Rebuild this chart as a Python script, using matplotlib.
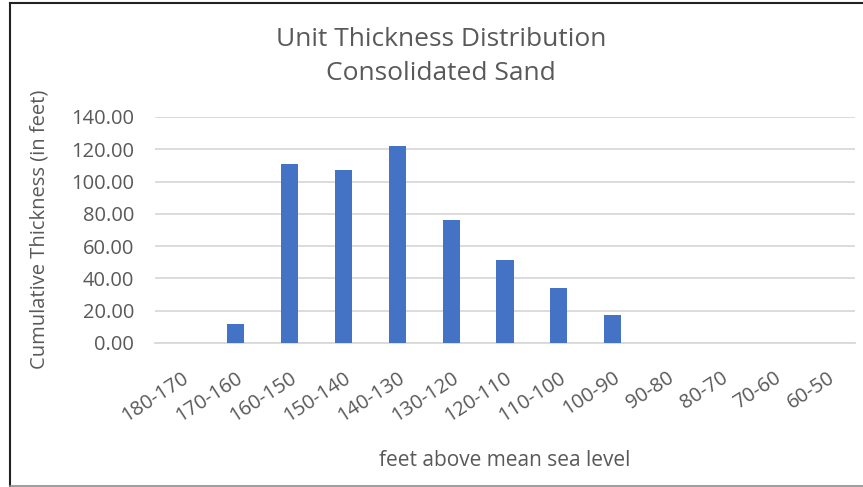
import matplotlib.pyplot as plt
from matplotlib.lines import Line2D

# Dados
faixas = ['180-170', '170-160', '160-150', '150-140', '140-130', '130-120', '120-110',
          '110-100', '100-90', '90-80', '80-70', '70-60', '60-50']
espessura = [0, 12, 111, 107, 122, 76.5, 51.5, 34, 17.5, 0, 0, 0, 0]

cor_barra = '#4472C4'
cor_texto = '#595959'

plt.rcParams['font.family'] = ['Open Sans', 'DejaVu Sans']

fig = plt.figure(figsize=(8.63, 4.87), dpi=100)
ax = fig.add_axes([155 / 863, 1 - 343 / 487, 700 / 863, 226 / 487])

x = list(range(len(faixas)))
ax.bar(x, espessura, width=0.32, color=cor_barra, zorder=3)

ax.set_xlim(-0.5, len(faixas) - 0.5)
ax.set_ylim(0, 140)
ax.set_yticks(range(0, 141, 20))
ax.set_yticklabels([f'{v:.2f}' for v in range(0, 141, 20)])
ax.set_xticks(x)
ax.set_xticklabels(faixas, rotation=33, ha='right', va='top', rotation_mode='anchor')

ax.grid(axis='y', color='#D9D9D9', linewidth=1.3, zorder=0)
for lado in ['top', 'right', 'left']:
    ax.spines[lado].set_visible(False)
ax.spines['bottom'].set_color('#D9D9D9')
ax.spines['bottom'].set_linewidth(1.3)
ax.tick_params(axis='both', length=0, colors=cor_texto)
ax.tick_params(axis='y', labelsize=14.5, pad=15)
ax.tick_params(axis='x', labelsize=14.5, pad=18)

# Rótulos dos eixos
fig.text(40 / 863, 1 - 229 / 487, 'Cumulative Thickness (in feet)', fontsize=14.5,
         color=cor_texto, ha='center', va='center', rotation=90)
fig.text(505 / 863, 1 - 460 / 487, 'feet above mean sea level', fontsize=15,
         color=cor_texto, ha='center', va='center')

# Título
fig.text(441 / 863, 1 - 39 / 487, 'Unit Thickness Distribution', fontsize=19,
         color=cor_texto, ha='center', va='center')
fig.text(441 / 863, 1 - 74 / 487, 'Consolidated Sand', fontsize=19,
         color=cor_texto, ha='center', va='center')

# Moldura da figura
fig.add_artist(Line2D([10 / 863, 1], [1 - 3 / 487, 1 - 3 / 487], color='#222222', linewidth=1.5))
fig.add_artist(Line2D([10 / 863, 10 / 863], [1 - 3 / 487, 1 - 486 / 487], color='#222222', linewidth=1.5))
fig.add_artist(Line2D([10 / 863, 1], [1 - 486 / 487, 1 - 486 / 487], color='#8C8C8C', linewidth=1.2))

fig.savefig('out.png', dpi=100)
